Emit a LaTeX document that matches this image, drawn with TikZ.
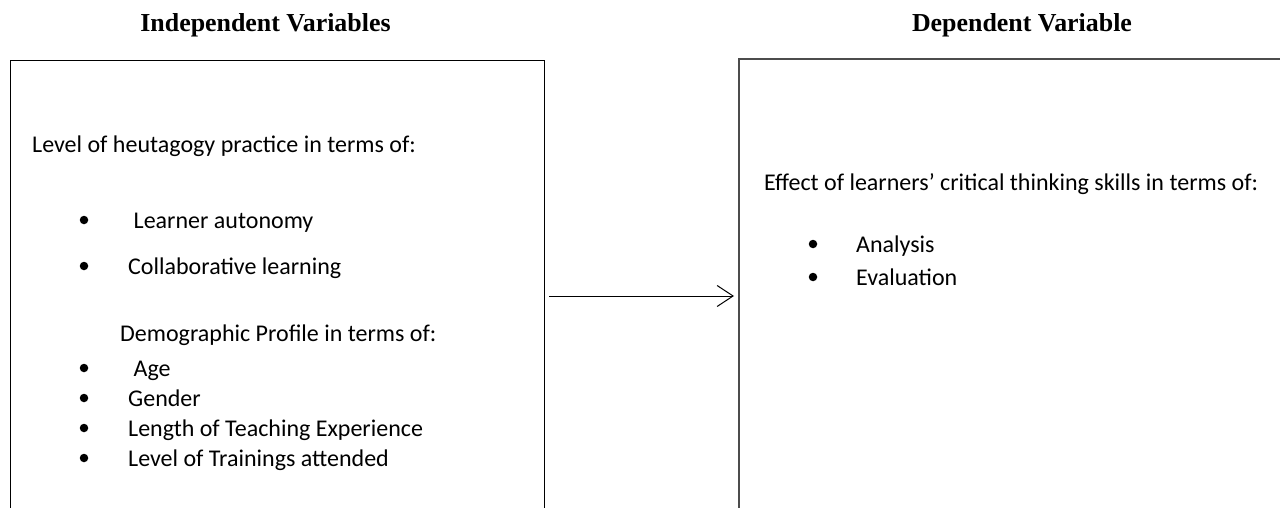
\documentclass[tikz,border=0pt]{standalone}
\usepackage{fontspec}
\setmainfont{Carlito}
\newfontfamily\headfont{Liberation Serif}
\usetikzlibrary{positioning, arrows.meta}

\begin{document}
\begin{tikzpicture}[
  x=1pt, y=-1pt,
  box/.style={draw, line width=1.3pt, anchor=north west, minimum height=520pt, inner sep=0pt},
  heading/.style={anchor=base, inner sep=0pt, font=\headfont\fontsize{25.9}{30}\selectfont\bfseries},
  item/.style={anchor=base west, inner sep=0pt, font=\fontsize{24}{28}\selectfont},
  bulletdot/.style={circle, fill=black, inner sep=0pt, minimum size=8.5pt},
  arrow/.style={-{Straight Barb[length=16pt, width=21pt]}, line width=1pt, shorten <=4pt, shorten >=4pt}
]
  \clip (0,0) rectangle (1280,508);

  % headings
  \node[heading] (ivhead) at (265.5,32) {Independent Variables};
  \node[heading] (dvhead) at (1022,32) {Dependent Variable};

  % boxes (run off the bottom of the page)
  \node[box, minimum width=534pt] (ivbox) at (10,60) {};
  \node[box, draw=black!70, line width=1.8pt, minimum width=600pt] (dvbox) at (738,58) {};

  % independent variables
  \node[item] (ivintro) at (32,153) {Level of heutagogy practice in terms of:};
  \node[bulletdot] (b1) at (84,220) {};
  \node[item] (ivauto) at (133.5,228) {Learner autonomy};
  \node[bulletdot] (b2) at (84,266) {};
  \node[item] (ivcollab) at (128,274) {Collaborative learning};

  \node[item] (ivdemo) at (120,341) {Demographic Profile in terms of:};
  \node[bulletdot] (b3) at (84,368) {};
  \node[item] (ivage) at (133.5,376) {Age};
  \node[bulletdot] (b4) at (84,398) {};
  \node[item] (ivgender) at (128,406) {Gender};
  \node[bulletdot] (b5) at (84,428) {};
  \node[item] (ivlength) at (128,436) {Length of Teaching Experience};
  \node[bulletdot] (b6) at (84,458) {};
  \node[item] (ivtrain) at (128,466) {Level of Trainings attended};

  % dependent variable
  \node[item] (dvintro) at (764,190) {Effect of learners’ critical thinking skills in terms of:};
  \node[bulletdot] (b7) at (813,244) {};
  \node[item] (dvanalysis) at (856,252) {Analysis};
  \node[bulletdot] (b8) at (813,277) {};
  \node[item] (dveval) at (856,285) {Evaluation};

  % link
  \coordinate (arrowrow) at (640,296);
  \draw[arrow] (ivbox.east |- arrowrow) -- (dvbox.west |- arrowrow);
\end{tikzpicture}
\end{document}
